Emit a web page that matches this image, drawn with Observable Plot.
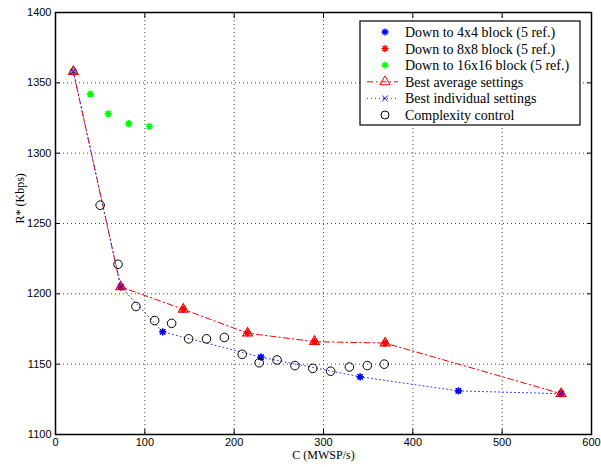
<!DOCTYPE html>
<html>
<head>
<meta charset="utf-8">
<script src="https://cdn.jsdelivr.net/npm/d3@7"></script>
<script src="https://cdn.jsdelivr.net/npm/@observablehq/plot@0.6"></script>
<style>
  html, body { margin: 0; padding: 0; background: #fff; }
  #chart { width: 601px; height: 467px; }
</style>
</head>
<body>
<div id="chart"></div>
<script>
// ---- Data ----
const avgC = [20, 73, 143, 215, 290, 369, 566];
const avgR = [1358, 1205, 1189, 1172, 1166, 1165, 1129];

const indC = [20, 73, 120, 230, 341, 451, 566];
const indR = [1358, 1205, 1173, 1155, 1141, 1131, 1129];

const blk4C = [20, 73, 120, 230, 341, 451, 566];
const blk4R = [1358, 1205, 1173, 1155, 1141, 1131, 1129];

const blk8C = [20, 73, 143, 215, 290, 369, 566];
const blk8R = [1358, 1205, 1189, 1172, 1166, 1165, 1129];

const blk16C = [20, 39, 59, 82, 105];
const blk16R = [1358, 1342, 1328, 1321, 1319];

const ccC = [50, 70, 90, 111, 130, 149, 169, 189, 209, 228, 248, 268, 288, 308, 329, 349, 368];
const ccR = [1263, 1221, 1191, 1181, 1179, 1168, 1168, 1169, 1157, 1151, 1153, 1149, 1147, 1145, 1148, 1149, 1150];

const xTicks = [0, 100, 200, 300, 400, 500, 600];
const yTicks = [1100, 1150, 1200, 1250, 1300, 1350, 1400];

const legendLabels = [
  "Down to 4x4 block (5 ref.)",
  "Down to 8x8 block (5 ref.)",
  "Down to 16x16 block (5 ref.)",
  "Best average settings",
  "Best individual settings",
  "Complexity control"
];

const zip = (xs, ys) => xs.map((x, i) => ({x, y: ys[i]}));
const avg = zip(avgC, avgR), ind = zip(indC, indR);
const b4 = zip(blk4C, blk4R), b8 = zip(blk8C, blk8R), b16 = zip(blk16C, blk16R);
const cc = zip(ccC, ccR);

// 8-armed Matlab-like asterisk
const asterisk8 = {
  draw(ctx, size) {
    const r = Math.sqrt(size / Math.PI);
    const d = r * Math.SQRT1_2;
    ctx.moveTo(-r, 0); ctx.lineTo(r, 0);
    ctx.moveTo(0, -r); ctx.lineTo(0, r);
    ctx.moveTo(-d, -d); ctx.lineTo(d, d);
    ctx.moveTo(-d, d); ctx.lineTo(d, -d);
  }
};

const serif = "'Liberation Serif', 'Times New Roman', serif";
const sans = "'Liberation Sans', Arial, Helvetica, sans-serif";
const fmt = d => String(d);
const blank = () => "";

const chart = Plot.plot({
  width: 601,
  height: 467,
  marginLeft: 55,
  marginRight: 10,
  marginTop: 12,
  marginBottom: 33,
  style: {background: "#fff", fontFamily: sans, fontSize: "11px", color: "black"},
  x: {domain: [0, 600], label: null},
  y: {domain: [1100, 1400], label: null},
  marks: [
    Plot.gridX(xTicks.slice(1, -1), {stroke: "#444", strokeOpacity: 1, strokeWidth: 1, strokeDasharray: "1,3"}),
    Plot.gridY(yTicks.slice(1, -1), {stroke: "#444", strokeOpacity: 1, strokeWidth: 1, strokeDasharray: "1,3"}),
    // tick labels
    Plot.axisX(xTicks, {anchor: "bottom", tickSize: 0, tickPadding: 4, tickFormat: fmt, fontFamily: sans, fontSize: 11}),
    Plot.axisY(yTicks, {anchor: "left", tickSize: 0, tickPadding: 4, tickFormat: fmt, fontFamily: sans, fontSize: 11}),
    // inward tick marks on all four sides
    Plot.axisX(xTicks, {anchor: "bottom", tickSize: 5, dy: -5, tickFormat: blank}),
    Plot.axisX(xTicks, {anchor: "top", tickSize: 5, dy: 5, tickFormat: blank}),
    Plot.axisY(yTicks, {anchor: "left", tickSize: 5, dx: 5, tickFormat: blank}),
    Plot.axisY(yTicks, {anchor: "right", tickSize: 5, dx: -5, tickFormat: blank}),
    Plot.frame({stroke: "black", strokeWidth: 1.5}),
    Plot.text(["C (MWSP/s)"], {frameAnchor: "bottom", dy: 24, fontFamily: serif, fontSize: 12, fill: "black"}),
    Plot.text(["R* (Kbps)"], {frameAnchor: "left", dx: -35, rotate: -90, fontFamily: serif, fontSize: 12, fill: "black"}),
    // series markers
    Plot.dot(b4, {x: "x", y: "y", symbol: asterisk8, r: 3.6, stroke: "#0000ff", fill: "none", strokeWidth: 1.6}),
    Plot.dot(b8, {x: "x", y: "y", symbol: asterisk8, r: 3.6, stroke: "#ff0000", fill: "none", strokeWidth: 1.6}),
    Plot.dot(b16, {x: "x", y: "y", symbol: asterisk8, r: 3.6, stroke: "#00ff00", fill: "none", strokeWidth: 1.6}),
    // lines
    Plot.line(avg, {x: "x", y: "y", stroke: "#ff0000", strokeWidth: 1, strokeDasharray: "6,3,1.5,3"}),
    Plot.dot(avg, {x: "x", y: "y", symbol: "triangle", r: 3.6, stroke: "#ff0000", fill: "none", strokeWidth: 1.2}),
    Plot.line(ind, {x: "x", y: "y", stroke: "#3030ff", strokeWidth: 1, strokeDasharray: "1,3"}),
    Plot.dot(ind, {x: "x", y: "y", symbol: "times", r: 2.6, stroke: "#0000ff", fill: "none", strokeWidth: 1}),
    Plot.dot(cc, {x: "x", y: "y", symbol: "circle", r: 4.3, stroke: "black", fill: "none", strokeWidth: 1})
  ]
});

document.getElementById("chart").appendChild(chart);

// ---- Legend (drawn inside the SVG, top-right) ----
const svg = d3.select(chart);
const lg = svg.append("g").attr("transform", "translate(360,21)").attr("text-anchor", "start");
lg.append("rect").attr("width", 220).attr("height", 104)
  .attr("fill", "white").attr("stroke", "black").attr("stroke-width", 1.2);
const rowY = i => 11 + i * 16.6;
const mx = 25, lx1 = 7, lx2 = 38, tx = 45;
const sym = (type, r) => d3.symbol().type(type).size(r * r * Math.PI)();
const specs = [
  {marker: sym(asterisk8, 3.6), color: "#0000ff"},
  {marker: sym(asterisk8, 3.6), color: "#ff0000"},
  {marker: sym(asterisk8, 3.6), color: "#00ff00"},
  {marker: sym(d3.symbolTriangle, 3.8), color: "#ff0000", line: "6,3,1.5,3"},
  {marker: sym(d3.symbolTimes, 2.6), color: "#0000ff", line: "1,3", lineColor: "#3030ff"},
  {marker: sym(d3.symbolCircle, 4.0), color: "black"}
];
specs.forEach((s, i) => {
  const y = rowY(i);
  if (s.line) {
    lg.append("line").attr("x1", lx1).attr("x2", lx2).attr("y1", y).attr("y2", y)
      .attr("stroke", s.lineColor || s.color).attr("stroke-dasharray", s.line);
  }
  lg.append("path").attr("d", s.marker).attr("transform", `translate(${mx},${y})`)
    .attr("fill", "none").attr("stroke", s.color).attr("stroke-width", i < 3 ? 1.4 : 1);
  lg.append("text").attr("x", tx).attr("y", y).attr("dy", "0.35em")
    .attr("text-anchor", "start")
    .attr("font-family", serif).attr("font-size", 14).attr("fill", "black")
    .text(legendLabels[i]);
});
</script>
</body>
</html>
